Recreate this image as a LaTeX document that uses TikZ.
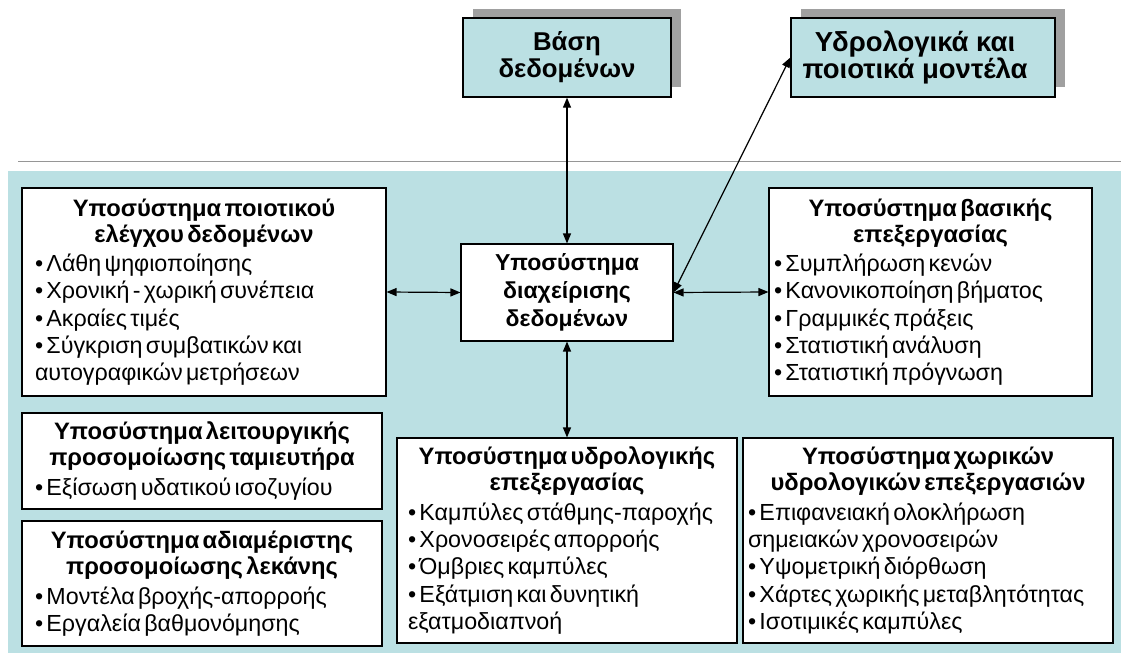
\documentclass[tikz,border=0pt]{standalone}
\usepackage{fontspec}
\setmainfont{Liberation Sans}
\usetikzlibrary{arrows.meta}
\definecolor{tealbg}{RGB}{187,224,227}
\definecolor{shadowgray}{RGB}{160,160,160}
\definecolor{linegray}{RGB}{150,150,150}
\newlength\fitw
\newcommand\fitsize[4]{\settowidth\fitw{\normalfont\fontsize{10}{12}\selectfont#2#4}\pgfmathsetmacro#1{10*#3/\fitw}\global\let#1#1}
\newcommand\boxttl[2]{{\fontsize{\fsT}{26}\selectfont\bfseries\noindent\makebox[\linewidth]{#1}\par\noindent\makebox[\linewidth]{#2}\par}\vspace{2.5pt}}
\newcommand\boxbody{\noindent\fontsize{\fsB}{27.2}\selectfont}
\AtBeginDocument{%
\fitsize\fsTa{\bfseries}{259}{Υποσύστημα ποιοτικού}%
\fitsize\fsBa{}{288}{• Χρονική - χωρική συνέπεια}%
\fitsize\fsTb{\bfseries}{244}{Υποσύστημα βασικής}%
\fitsize\fsBb{}{284}{• Κανονικοποίηση βήματος}%
\fitsize\fsTc{\bfseries}{318}{Υποσύστημα λειτουργικής}%
\fitsize\fsBc{}{297}{• Εξίσωση υδατικού ισοζυγίου}%
\fitsize\fsTd{\bfseries}{318}{Υποσύστημα αδιαμέριστης}%
\fitsize\fsBd{}{292}{• Μοντέλα βροχής-απορροής}%
\fitsize\fsTe{\bfseries}{290}{Υποσύστημα υδρολογικής}%
\fitsize\fsBe{}{312}{• Καμπύλες στάθμης-παροχής}%
\fitsize\fsTf{\bfseries}{307}{υδρολογικών επεξεργασιών}%
\fitsize\fsBf{}{357}{• Χάρτες χωρικής μεταβλητότητας}%
\fitsize\fsMid{\bfseries}{144}{Υποσύστημα}%
\fitsize\fsDb{\bfseries}{137}{δεδομένων}%
\fitsize\fsHm{\bfseries}{225}{ποιοτικά μοντέλα}%
\pgfmathsetmacro\fsT{(\fsTa+\fsTb+\fsTc+\fsTd+\fsTe+\fsTf)/6}\global\let\fsT\fsT
\pgfmathsetmacro\fsB{(\fsBa+\fsBb+\fsBc+\fsBd+\fsBe+\fsBf)/6}\global\let\fsB\fsB
}
\begin{document}
\begin{tikzpicture}[x=1pt,y=-1pt,
  subbox/.style={draw=black, line width=1.1pt, fill=white, inner ysep=0pt, align=left},
  midbox/.style={draw=black, line width=1.1pt, fill=white, inner sep=0pt, align=center},
  topbox/.style={draw=black, line width=1.3pt, fill=tealbg, inner sep=0pt, align=center},
  conn/.style={line width=1.2pt, {Triangle[length=10pt,width=8pt]}-{Triangle[length=10pt,width=8pt]}}]
\useasboundingbox (0,0) rectangle (1121,653);
\fill[white] (0,0) rectangle (1121,653);
\draw[linegray, line width=1pt] (18,161.5) -- (1121,161.5);
\fill[tealbg] (8,171) rectangle (1121,653);
% shadows of the top boxes
\fill[shadowgray] (473,9) rectangle (681,87);
\fill[shadowgray] (801,9) rectangle (1065,87);
\node[topbox, minimum width=208pt, minimum height=79pt, font=\fontsize{\fsDb}{27}\selectfont\bfseries] (db) at (567,57.5) {Βάση\\δεδομένων};
\node[topbox, minimum width=264pt, minimum height=79pt, font=\fontsize{\fsHm}{27}\selectfont\bfseries] (hm) at (923,57.5) {Υδρολογικά και\hspace*{16pt}\\ποιοτικά μοντέλα\hspace*{16pt}};
\node[midbox, minimum width=212pt, minimum height=97pt, font=\fontsize{\fsMid}{28}\selectfont\bfseries] (dm) at (567,292.5) {Υποσύστημα\\διαχείρισης\\δεδομένων};
\node[subbox, inner xsep=13pt, text width=338pt, minimum height=208pt] (qc) at (204,292)
  {\boxttl{Υποσύστημα ποιοτικού}{ελέγχου δεδομένων}\boxbody • Λάθη ψηφιοποίησης\\• Χρονική - χωρική συνέπεια\\• Ακραίες τιμές\\• Σύγκριση συμβατικών και\\αυτογραφικών μετρήσεων\par};
\node[subbox, inner xsep=5pt, text width=313pt, minimum height=208pt] (bp) at (930.5,292)
  {\boxttl{Υποσύστημα βασικής}{επεξεργασίας}\boxbody • Συμπλήρωση κενών\\• Κανονικοποίηση βήματος\\• Γραμμικές πράξεις\\• Στατιστική ανάλυση\\• Στατιστική πρόγνωση\par};
\node[subbox, inner xsep=13pt, text width=334pt, minimum height=96pt] (rs) at (202,461)
  {\boxttl{Υποσύστημα λειτουργικής}{προσομοίωσης ταμιευτήρα}\boxbody • Εξίσωση υδατικού ισοζυγίου\par};
\node[subbox, inner xsep=13pt, text width=334pt, minimum height=125pt] (lb) at (202,583.5)
  {\boxttl{Υποσύστημα αδιαμέριστης}{προσομοίωσης λεκάνης}\boxbody • Μοντέλα βροχής-απορροής\\• Εργαλεία βαθμονόμησης\par};
\node[subbox, inner xsep=11pt, text width=318pt, minimum height=205pt] (hy) at (567,540.5)
  {\boxttl{Υποσύστημα υδρολογικής}{επεξεργασίας}\boxbody • Καμπύλες στάθμης-παροχής\\• Χρονοσειρές απορροής\\• Όμβριες καμπύλες\\• Εξάτμιση και δυνητική\\εξατμοδιαπνοή\par};
\node[subbox, inner xsep=5pt, text width=360pt, minimum height=205pt] (sp) at (928,540.5)
  {\boxttl{Υποσύστημα χωρικών}{υδρολογικών επεξεργασιών}\boxbody • Επιφανειακή ολοκλήρωση\\σημειακών χρονοσειρών\\• Υψομετρική διόρθωση\\• Χάρτες χωρικής μεταβλητότητας\\• Ισοτιμικές καμπύλες\par};
\draw[conn] (db.south) -- (dm.north);
\draw[conn] (dm.south) -- (hy.north);
\draw[conn] (qc.east) -- (dm.west);
\draw[conn] (dm.east) -- (bp.west);
\draw[conn] (dm.east) -- (hm.west);
\end{tikzpicture}
\end{document}
